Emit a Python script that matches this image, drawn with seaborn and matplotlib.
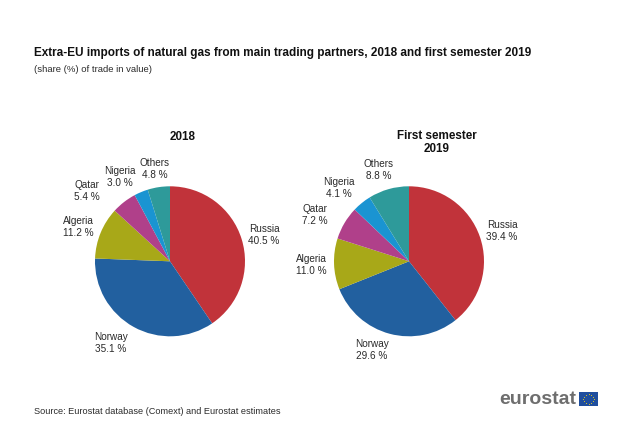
import numpy as np
import matplotlib
matplotlib.use("Agg")
import matplotlib.pyplot as plt
from matplotlib.patches import Rectangle
import seaborn as sns

partners = ["Russia", "Norway", "Algeria", "Qatar", "Nigeria", "Others"]
values_2018 = [40.5, 35.1, 11.2, 5.4, 3.0, 4.8]
values_2019 = [39.4, 29.6, 11.0, 7.2, 4.1, 8.8]
colors = ["#C1333A", "#22609F", "#A8A818", "#B0408A", "#1A94D2", "#2E9A9A"]

title = "Extra-EU imports of natural gas from main trading partners, 2018 and first semester 2019"
subtitle = "(share (%) of trade in value)"
source = "Source: Eurostat database (Comext) and Eurostat estimates"

sns.set_theme(style="white")
plt.rcParams["font.family"] = ["Liberation Sans", "DejaVu Sans"]

W, H = 640, 448
fig = plt.figure(figsize=(W / 100, H / 100), dpi=100, facecolor="white")
palette = sns.color_palette(colors)
TXT = "#2A2A2A"


def put(x, y, s, **kw):
    kw.setdefault("color", TXT)
    kw.setdefault("fontsize", 7.2)
    kw.setdefault("ha", "center")
    kw.setdefault("va", "center")
    kw.setdefault("multialignment", "center")
    fig.text(x / W, 1 - y / H, s, **kw)


def pie(cx, cy, r, vals, label_xy):
    ax = fig.add_axes([(cx - r) / W, 1 - (cy + r) / H, 2 * r / W, 2 * r / H])
    ax.pie(vals, colors=palette, startangle=90, counterclock=False, radius=1,
           wedgeprops=dict(linewidth=0))
    ax.set_xlim(-1, 1)
    ax.set_ylim(-1, 1)
    for name, v, (x, y) in zip(partners, vals, label_xy):
        put(x, y, f"{name}\n{v:.1f} %", linespacing=1.25)


pie(170, 261.3, 75, values_2018,
    [(264, 235), (111, 343), (78, 227), (87, 191), (120, 177), (155, 169)])
pie(409, 261.3, 75, values_2019,
    [(502, 231), (372, 350), (311, 265), (315, 215), (339, 188), (379, 170)])

put(34, 53, title, ha="left", fontweight="bold", fontsize=8.43, color="#111111")
put(34, 70, subtitle, ha="left", fontsize=6.8)
put(183, 137, "2018", fontweight="bold", fontsize=8.4, color="#111111")
put(437, 142.5, "First semester\n2019", fontweight="bold", fontsize=8.4,
    color="#111111", linespacing=1.15)
put(34, 411, source, ha="left", fontsize=6.6)

# eurostat logo
put(499, 399, "eurostat", ha="left", fontsize=14, fontweight="bold", color="#6E6E6E")
logo = fig.add_axes([579 / W, 1 - 406 / H, 19 / W, 14 / H])
logo.add_patch(Rectangle((0, 0), 1, 1, color="#1F4E9E"))
angles = np.deg2rad(np.arange(0, 360, 30))
logo.scatter(0.5 + 0.3 * np.cos(angles), 0.5 + 0.33 * np.sin(angles), s=0.6, color="#E8D020", linewidths=0)
logo.set_xlim(0, 1)
logo.set_ylim(0, 1)
logo.axis("off")

fig.savefig("out.png", dpi=100)
